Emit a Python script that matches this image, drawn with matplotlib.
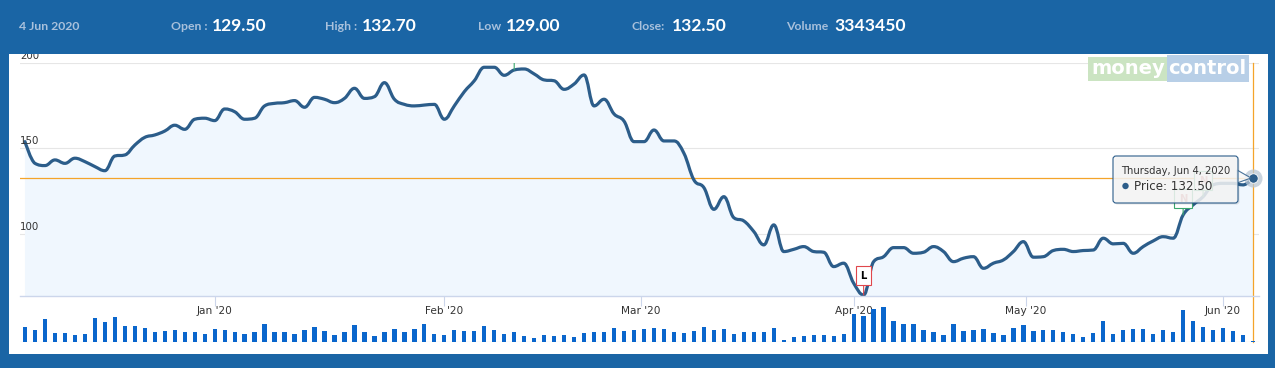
import matplotlib
matplotlib.use("Agg")
import matplotlib.pyplot as plt
from matplotlib.patches import Rectangle, FancyBboxPatch, Polygon, Circle, PathPatch
from matplotlib.path import Path
from matplotlib.transforms import IdentityTransform
import numpy as np
import pandas as pd

# ------------------------------------------------------------------ data
session_start = "2019-12-04"
session_end = "2020-06-04"
market_holidays = ["2019-12-25", "2020-02-21", "2020-03-10", "2020-04-02", "2020-04-06",
                   "2020-04-10", "2020-04-14", "2020-05-01", "2020-05-25"]
special_sessions = ["2020-02-01"]
month_starts = ["2020-01-01", "2020-02-01", "2020-03-01", "2020-04-01", "2020-05-01", "2020-06-01"]

price = [154.0, 141.3, 140.0, 143.3, 141.3, 144.3, 142.3, 139.4, 137.0, 145.6,
         146.2, 152.0, 156.5, 157.9, 160.2, 163.6, 161.2, 167.1, 167.7, 166.3,
         173.1, 171.5, 167.1, 167.7, 174.9, 176.4, 176.8, 178.0, 174.1, 179.9,
         178.8, 176.8, 179.3, 185.2, 179.3, 180.3, 188.5, 178.8, 175.8, 174.9,
         175.4, 175.8, 167.1, 174.9, 183.2, 189.6, 197.5, 197.5, 192.8, 195.9,
         196.5, 193.6, 190.1, 189.6, 184.6, 187.7, 193.0, 174.9, 178.8, 170.2,
         166.0, 154.0, 154.0, 160.8, 154.4, 154.4, 147.2, 131.6, 127.1, 114.4,
         121.8, 109.5, 107.6, 101.4, 93.6, 105.3, 89.7, 91.0, 92.6, 89.7,
         89.3, 80.9, 82.9, 71.2, 64.3, 83.8, 86.7, 92.0, 92.0, 88.7,
         89.3, 92.6, 89.7, 83.8, 85.8, 86.7, 79.9, 82.9, 84.8, 89.7,
         95.5, 86.4, 86.7, 90.3, 91.0, 89.7, 90.3, 90.6, 97.5, 94.2,
         94.5, 88.7, 92.6, 95.9, 98.4, 97.5, 111.1, 117.0, 121.8, 128.7,
         129.6, 129.6, 128.7, 132.5]

volume_mn = [7.2, 5.8, 11.0, 4.6, 4.3, 3.5, 4.0, 11.5, 9.6, 12.0,
             7.7, 7.7, 6.7, 4.8, 5.3, 5.8, 4.8, 4.8, 3.8, 6.2,
             5.8, 4.8, 3.8, 4.8, 8.6, 4.8, 4.8, 3.8, 5.8, 7.2,
             5.3, 3.4, 4.8, 8.2, 4.8, 2.9, 4.8, 6.2, 4.8, 6.2,
             8.6, 3.8, 3.4, 5.8, 5.3, 5.3, 7.7, 5.8, 3.8, 4.8,
             2.9, 1.9, 3.4, 2.9, 3.4, 2.4, 4.3, 4.8, 4.8, 6.7,
             5.3, 5.8, 6.2, 6.7, 6.2, 4.8, 4.3, 5.3, 7.2, 5.8,
             6.2, 3.8, 4.8, 4.8, 4.8, 6.7, 1.0, 2.4, 2.9, 3.4,
             3.4, 2.9, 3.8, 13.4, 12.5, 15.8, 17.0, 10.1, 8.6, 8.6,
             5.8, 4.8, 3.4, 8.6, 5.3, 5.8, 6.2, 4.3, 3.4, 6.7,
             8.2, 5.3, 5.8, 5.8, 4.8, 3.8, 2.4, 4.3, 10.1, 3.8,
             5.8, 6.2, 6.2, 3.8, 5.8, 4.8, 15.4, 10.1, 7.2, 5.8,
             6.7, 5.3, 3.4, 0.5]

y_ticks = [100, 150, 200]
flag_dates = ["2020-02-11", "2020-04-03", "2020-05-26", "2020-05-28"]
flag_text = ["H", "L", "N", "N"]

header_date = "4 Jun 2020"
quote_labels = ["Open :", "High :", "Low", "Close:", "Volume"]
quote_values = ["129.50", "132.70", "129.00", "132.50", "3343450"]
tooltip_date = "Thursday, Jun 4, 2020"
tooltip_value = "Price: 132.50"
close_price = 132.50

# ------------------------------------------------------------------ style
BLUE = "#1a65a5"
LINE = "#2c5d8a"
FILL = "#f0f7fe"
GRID = "#e6e6e6"
AXIS = "#ccd6eb"
ORANGE = "#f4a42a"
BAR = "#0a66cc"
TEXT = "#333333"

W, H = 1275, 368
DPI = 100
fig = plt.figure(figsize=(W / DPI, H / DPI), dpi=DPI)
fig.patch.set_facecolor(BLUE)
PX = IdentityTransform()


def fy(y):
    return H - y


def frac_rect(x0, y0, x1, y1):
    return [x0 / W, 1 - y1 / H, (x1 - x0) / W, (y1 - y0) / H]


def spline_verts(x, y, trans, smoothing=1.5):
    """Highcharts-style spline: bezier control points around each data point (display space)."""
    P = trans.transform(np.column_stack([x, y]))
    L = P.copy()
    R = P.copy()
    den = smoothing + 1
    for i in range(1, len(P) - 1):
        px, py_ = P[i]
        lx, ly = P[i - 1]
        nx, ny = P[i + 1]
        lcx = (smoothing * px + lx) / den
        lcy = (smoothing * py_ + ly) / den
        rcx = (smoothing * px + nx) / den
        rcy = (smoothing * py_ + ny) / den
        if rcx != lcx:
            corr = ((rcy - lcy) * (rcx - px)) / (rcx - lcx) + py_ - rcy
            lcy += corr
            rcy += corr
            if lcy > ly and lcy > py_:
                lcy = max(ly, py_); rcy = 2 * py_ - lcy
            elif lcy < ly and lcy < py_:
                lcy = min(ly, py_); rcy = 2 * py_ - lcy
            if rcy > ny and rcy > py_:
                rcy = max(ny, py_); lcy = 2 * py_ - rcy
            elif rcy < ny and rcy < py_:
                rcy = min(ny, py_); lcy = 2 * py_ - rcy
        L[i] = (lcx, lcy)
        R[i] = (rcx, rcy)
    verts = [P[0]]
    codes = [Path.MOVETO]
    for i in range(1, len(P)):
        verts += [R[i - 1], L[i], P[i]]
        codes += [Path.CURVE4] * 3
    verts = trans.inverted().transform(np.array(verts))
    return verts, codes


# white panel
fig.add_artist(Rectangle((9, fy(354)), 1268 - 9, 354 - 54, transform=PX,
                         facecolor="white", edgecolor="none", zorder=-1))

dates = pd.bdate_range(session_start, session_end)
dates = dates.difference(pd.to_datetime(market_holidays)).union(pd.to_datetime(special_sessions))
n = len(dates)
idx = np.arange(n)
price = np.array(price[:n])
volume_mn = np.array(volume_mn[:n])

date_ns = dates.values.astype("datetime64[ns]").astype(np.int64)
ms = pd.to_datetime(month_starts)
month_pos = np.interp(ms.values.astype("datetime64[ns]").astype(np.int64), date_ns, idx)
month_lbl = [d.strftime("%b '%y") for d in ms]
flag_pos = dates.get_indexer(pd.to_datetime(flag_dates))

XL = (-0.5, 123.6)
YMIN = 63.7

# ---------------------------------------------------------------- price axes
ax = fig.add_axes(frac_rect(20, 63, 1259, 296))
ax.set_facecolor("none")
ax.set_xlim(*XL)
ax.set_ylim(YMIN, 200)
for s in ["top", "right", "left"]:
    ax.spines[s].set_visible(False)
ax.spines["bottom"].set_color(AXIS)
ax.spines["bottom"].set_linewidth(1.0)
ax.set_yticks([])
ax.set_xticks(month_pos)
ax.set_xticklabels([])
ax.tick_params(axis="x", length=7.2, width=0.8, color=AXIS)

for v in y_ticks:
    ax.axhline(v, color=GRID, lw=0.8, zorder=0.5)
    ax.annotate(str(v), xy=(0, v), xycoords=ax.get_yaxis_transform(),
                xytext=(0, 1.5), textcoords="offset points", ha="left", va="bottom",
                fontsize=7.4, color=TEXT, family="DejaVu Sans", annotation_clip=False)

for p, lab in zip(month_pos, month_lbl):
    ax.text(p, -0.066, lab, transform=ax.get_xaxis_transform(), ha="center", va="center",
            fontsize=7.6, color=TEXT, family="DejaVu Sans")

verts, codes = spline_verts(idx, price, ax.transData)
fill_verts = np.vstack([verts, [[idx[-1], YMIN], [idx[0], YMIN], verts[0]]])
fill_codes = codes + [Path.LINETO, Path.LINETO, Path.CLOSEPOLY]
ax.add_patch(PathPatch(Path(fill_verts, fill_codes), facecolor=FILL, edgecolor="none", zorder=1))
ax.axhline(close_price, color=ORANGE, lw=0.9, zorder=1.5)
ax.axvline(idx[-1], ymin=(296 - 342) / (296 - 63), ymax=1, color=ORANGE, lw=0.9,
           zorder=1.5, clip_on=False)
ax.add_patch(PathPatch(Path(verts, codes), facecolor="none", edgecolor=LINE, lw=2.3,
                       joinstyle="round", capstyle="round", zorder=2))

# flags
flag_style = {"H": "#3aa76d", "L": "#e0474c", "N": "#3aa76d"}
flag_off = {"H": 19, "L": 19, "N": 16}
for pos, t in zip(flag_pos, flag_text):
    ec = flag_style[t]
    tc = "black" if t == "L" else "#d07070"
    a = ax.annotate(t, xy=(pos, price[pos]), xytext=(0, flag_off[t]), textcoords="offset pixels",
                    ha="center", va="center", fontsize=7.2, fontweight="bold", color=tc,
                    bbox=dict(boxstyle="square,pad=0.45", fc="white", ec=ec, lw=0.8),
                    arrowprops=dict(arrowstyle="-", color=ec, lw=0.8, shrinkA=0, shrinkB=0),
                    zorder=3, clip_on=True)
    a.set_clip_path(ax.patch)
    a.arrow_patch.set_clip_path(ax.patch)

# hover marker
ax.plot([idx[-1]], [price[-1]], "o", ms=13, color="#b9c6d4", alpha=0.75, mec="none",
        clip_on=False, zorder=4)
ax.plot([idx[-1]], [price[-1]], "o", ms=6.8, color=LINE, mec="white", mew=0.6,
        clip_on=False, zorder=5)

# ---------------------------------------------------------------- volume axes
vax = fig.add_axes(frac_rect(20, 300, 1259, 342))
vax.set_facecolor("none")
vax.set_xlim(*XL)
vax.set_ylim(0, volume_mn.max() * 42 / 35)
vax.axis("off")
vax.bar(idx, volume_mn, width=0.43, color=BAR, lw=0, zorder=2)
vax.axhline(0, color=GRID, lw=1.0, zorder=1)

# ---------------------------------------------------------------- header
fig.add_artist(Rectangle((0, fy(54)), W, 54, transform=PX, facecolor=BLUE,
                         edgecolor="none", zorder=10))
LABC = "#a9c1dc"
fig.text(19, fy(30.5), header_date, transform=PX, color=LABC, fontsize=8.8,
         family="Lato", fontweight="bold", va="baseline", ha="left", zorder=11)
label_x = [171, 325, 478, 632, 786]
value_x = [212, 362, 506, 672, 834]
for lx, vx, lab, val in zip(label_x, value_x, quote_labels, quote_values):
    fig.text(lx, fy(30.5), lab, transform=PX, color=LABC, fontsize=8.8, family="Lato",
             fontweight="bold", va="baseline", ha="left", zorder=11)
    fig.text(vx, fy(31), val, transform=PX, color="white", fontsize=12.6, family="Lato",
             fontweight="bold", va="baseline", ha="left", zorder=11)

# ---------------------------------------------------------------- logo
fig.add_artist(Rectangle((1088, fy(81)), 1167 - 1088, 24, transform=PX,
                         facecolor="#cbe4c2", edgecolor="none", zorder=3))
fig.add_artist(Rectangle((1167, fy(82)), 1249 - 1167, 27, transform=PX,
                         facecolor="#b8cfe7", edgecolor="none", zorder=3))
fig.text(1128, fy(68.5), "money", transform=PX, color="white", fontsize=14,
         fontweight="bold", family="DejaVu Sans", ha="center", va="center", zorder=3.1)
fig.text(1207, fy(68.5), "control", transform=PX, color="white", fontsize=14,
         fontweight="bold", family="DejaVu Sans", ha="center", va="center", zorder=3.1)

# ---------------------------------------------------------------- tooltip
tx0, ty0, tx1, ty1 = 1113, 156, 1238, 203
fig.add_artist(FancyBboxPatch((tx0 + 1.5, fy(ty1) - 1.5), tx1 - tx0, ty1 - ty0,
                              boxstyle="round,pad=0,rounding_size=3", transform=PX,
                              facecolor="black", alpha=0.10, edgecolor="none", zorder=12))
fig.add_artist(Polygon([(tx1 - 1, fy(170)), (1251, fy(178)), (tx1 - 1, fy(183))], closed=True,
                       transform=PX, facecolor="#f7f7f7", alpha=0.85, edgecolor=LINE,
                       lw=0.8, zorder=12.5))
fig.add_artist(FancyBboxPatch((tx0, fy(ty1)), tx1 - tx0, ty1 - ty0,
                              boxstyle="round,pad=0,rounding_size=3", transform=PX,
                              facecolor="#f7f7f7", alpha=0.85, edgecolor="none", zorder=13))
fig.add_artist(FancyBboxPatch((tx0, fy(ty1)), tx1 - tx0, ty1 - ty0,
                              boxstyle="round,pad=0,rounding_size=3", transform=PX,
                              facecolor="none", edgecolor=LINE, lw=0.8, zorder=13.5))
fig.text(1121, fy(171.5), tooltip_date, transform=PX, color=TEXT, fontsize=7.2,
         family="DejaVu Sans", ha="left", va="center", zorder=14)
fig.add_artist(Circle((1125.5, fy(186)), 3.2, transform=PX, facecolor=LINE,
                      edgecolor="none", zorder=14))
fig.text(1134, fy(186), tooltip_value, transform=PX, color=TEXT, fontsize=8.6,
         family="DejaVu Sans", ha="left", va="center", zorder=14)

fig.savefig("out.png", dpi=DPI, facecolor=BLUE)
